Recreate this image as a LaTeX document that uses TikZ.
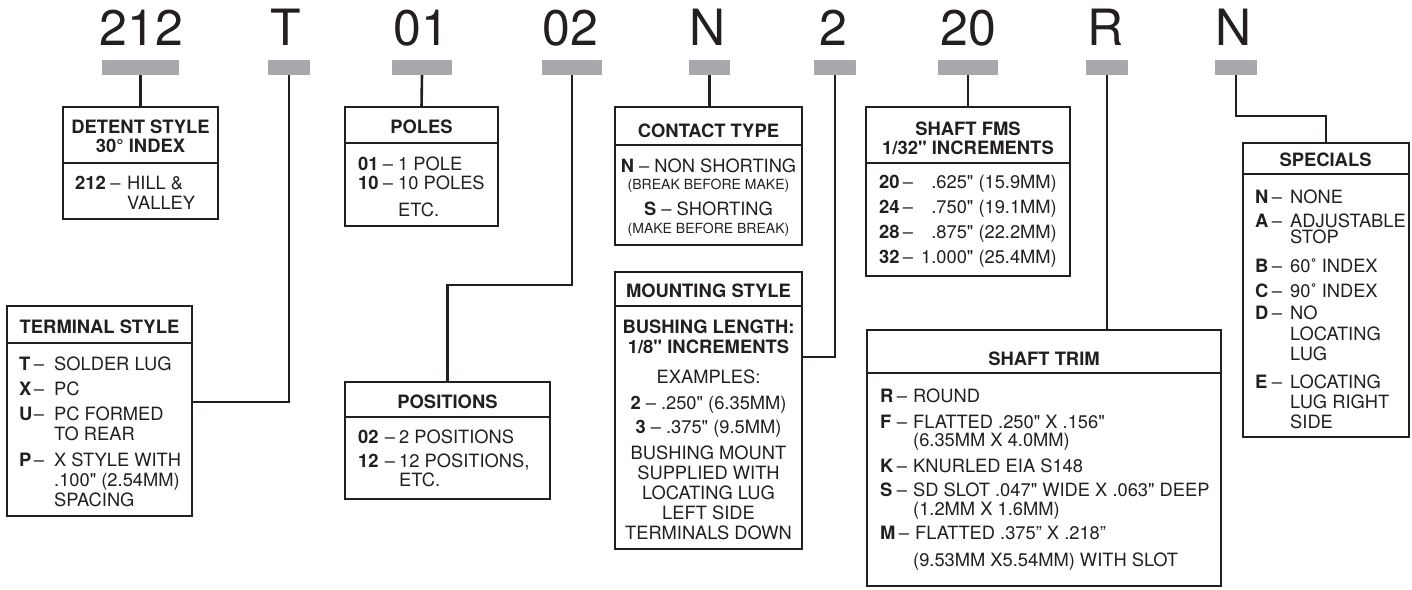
\documentclass[tikz,border=0pt]{standalone}
\usepackage{fontspec}
\setmainfont{TeX Gyre Heros}[Ligatures=TeXOff]
\definecolor{ink}{HTML}{231F20}
\definecolor{barg}{HTML}{A7A9AC}
\newcommand\bodyr{\fontsize{18.3}{20}\selectfont}
\newcommand\bodyb{\fontsize{18.4}{20}\selectfont\bfseries}
\newcommand\smallr{\fontsize{14}{16}\selectfont}
\newcommand\bigcode{\fontsize{50}{50}\selectfont}
\tikzset{
  box/.style={draw=ink, line width=2.6pt, inner sep=0pt, outer sep=0pt},
  bar/.style={fill=barg, inner sep=0pt, outer sep=0pt},
  conn/.style={draw=ink, line width=2.6pt},
  sepl/.style={draw=ink, line width=2.6pt},
  big/.style={font=\bigcode, text=ink, inner sep=0pt, anchor=base},
  hd/.style={font=\bodyb, text=ink, inner sep=0pt, anchor=base},
  lab/.style={font=\bodyb, text=ink, inner sep=0pt, anchor=base west},
  dsh/.style={font=\bodyr, text=ink, inner sep=0pt, anchor=base},
  tx/.style={font=\bodyr, text=ink, inner sep=0pt, anchor=base west},
  rtx/.style={font=\bodyr, text=ink, inner sep=0pt, anchor=base east},
  ctx/.style={font=\bodyr, text=ink, inner sep=0pt, anchor=base},
  smalltx/.style={font=\smallr, text=ink, inner sep=0pt, anchor=base},
}
% name, baseline, x label, x dash centre, x text, label, text
\newcommand\ent[7]{%
  \node[lab] (#1) at (#3,#2) {#6};
  \node[dsh] (#1d) at (#4,#2) {\textendash};
  \node[tx] (#1t) at (#5,#2) {#7};}
% name, x1, y1, x2, y2
\newcommand\pbox[5]{\node[box, anchor=north west, minimum width={#4-#2}, minimum height={#5-#3}] (#1) at (#2,#3) {};}
\newcommand\pbar[5]{\node[bar, anchor=north west, minimum width={#4-#2}, minimum height={#5-#3}] (#1) at (#2,#3) {};}
\newcommand\psep[2]{\draw[sepl] (#1.west |- 0,#2) -- (#1.east |- 0,#2);}
\begin{document}
\begin{tikzpicture}[x=1pt,y=-1pt]
\useasboundingbox (0,0) rectangle (1412,589);
% code letters
\node[big] (l1) at (141.5,45.5) {212};
\node[big] (l2) at (285.5,45.5) {T};
\node[big] (l3) at (421.5,45.5) {01};
\node[big] (l4) at (570.5,45.5) {02};
\node[big] (l5) at (708,45.5) {N};
\node[big] (l6) at (833.5,45.5) {2};
\node[big] (l7) at (968,45.5) {20};
\node[big] (l8) at (1106,45.5) {R};
\node[big] (l9) at (1233.5,45.5) {N};
% bars
\pbar{b1}{102}{60}{179}{75}
\pbar{b2}{268}{60}{310}{75}
\pbar{b3}{392}{60}{452}{75}
\pbar{b4}{542}{60}{602}{75}
\pbar{b5}{689}{60}{730}{75}
\pbar{b6}{814}{60}{856}{75}
\pbar{b7}{938}{60}{998}{75}
\pbar{b8}{1086}{60}{1128}{75}
\pbar{b9}{1215}{60}{1257}{75}
% boxes
\pbox{detent}{63}{107}{218}{219}   \psep{detent}{163}
\pbox{poles}{345}{107}{498}{226}   \psep{poles}{143}
\pbox{contact}{615}{107}{802}{245} \psep{contact}{145}
\pbox{mount}{615}{272}{802}{549}   \psep{mount}{306}
\pbox{fms}{866}{107}{1070}{276}    \psep{fms}{163}
\pbox{trim}{867}{330}{1221}{586}   \psep{trim}{373}
\pbox{spec}{1243}{143}{1409}{437}  \psep{spec}{174}
\pbox{term}{7}{306}{192}{516}      \psep{term}{343}
\pbox{pos}{345}{382}{550}{499}     \psep{pos}{417}
% connectors
\draw[conn] (b1.south) -- (detent.north);
\draw[conn] (b2.south) |- (term.east |- 0,402);
\draw[conn] (b3.south) -- (poles.north);
\draw[conn] (b4.south) -- (b4.south |- 0,285) -| (pos.north);
\draw[conn] (b5.south) -- (b5.south |- contact.north);
\draw[conn] (b6.south) |- (mount.east |- 0,357);
\draw[conn] (b7.south) -- (fms.north);
\draw[conn] (b8.south) -- (b8.south |- trim.north);
\draw[conn] (b9.south) -- (b9.south |- 0,116) -| (spec.north);
% detent
\node[hd] (dh1) at (140.5,133.5) {DETENT STYLE};
\node[hd] (dh2) at (140.5,152) {30° INDEX};
\ent{d1}{189}{75}{115.5}{127}{212}{HILL \&}
\node[tx] (d1b) at (127,209) {VALLEY};
% poles
\node[hd] (ph) at (421.5,133) {POLES};
\ent{p1}{170}{358}{388}{398}{01}{1 POLE}
\ent{p2}{189}{358}{388}{398}{10}{10 POLES}
\node[tx] (p3) at (398,216) {ETC.};
% contact
\node[hd] (ch) at (708.5,137) {CONTACT TYPE};
\node[ctx] (c1) at (708.5,172) {\textbf{N} \textendash{} NON SHORTING};
\node[smalltx] (c2) at (708.5,189) {(BREAK BEFORE MAKE)};
\node[ctx] (c3) at (708.5,215) {\textbf{S} \textendash{} SHORTING};
\node[smalltx] (c4) at (708.5,233) {(MAKE BEFORE BREAK)};
% mounting
\node[hd] (mh) at (708.5,297) {MOUNTING STYLE};
\node[hd] (m1) at (708.5,333) {BUSHING LENGTH:};
\node[hd] (m2) at (708.5,353) {1/8" INCREMENTS};
\node[ctx] (m3) at (708.5,383) {EXAMPLES:};
\node[ctx] (m4) at (708.5,409) {\textbf{2} \textendash{} .250" (6.35MM)};
\node[ctx] (m5) at (708.5,433) {\textbf{3} \textendash{} .375" (9.5MM)};
\node[ctx] (m6) at (708.5,459) {BUSHING MOUNT};
\node[ctx] (m7) at (708.5,479) {SUPPLIED WITH};
\node[ctx] (m8) at (708.5,499) {LOCATING LUG};
\node[ctx] (m9) at (708.5,519) {LEFT SIDE};
\node[ctx] (m10) at (708.5,539) {TERMINALS DOWN};
% shaft fms
\node[hd] (fh1) at (968,135) {SHAFT FMS};
\node[hd] (fh2) at (968,154) {1/32" INCREMENTS};
\node[lab] (f1) at (879,188) {20}; \node[dsh] (f1d) at (908,188) {\textendash}; \node[rtx] (f1t) at (1057,188) {.625" (15.9MM)};
\node[lab] (f2) at (879,213) {24}; \node[dsh] (f2d) at (908,213) {\textendash}; \node[rtx] (f2t) at (1057,213) {.750" (19.1MM)};
\node[lab] (f3) at (879,238) {28}; \node[dsh] (f3d) at (908,238) {\textendash}; \node[rtx] (f3t) at (1057,238) {.875" (22.2MM)};
\node[lab] (f4) at (879,263) {32}; \node[dsh] (f4d) at (908,263) {\textendash}; \node[rtx] (f4t) at (1057,263) {1.000" (25.4MM)};
% shaft trim
\node[hd] (th) at (1044,365) {SHAFT TRIM};
\ent{t1}{402}{880}{902}{913}{R}{ROUND}
\ent{t2}{428}{880}{902}{913}{F}{FLATTED .250" X .156"}
\node[tx] (t2b) at (913,446) {(6.35MM X 4.0MM)};
\ent{t3}{472}{880}{902}{913}{K}{KNURLED EIA S148}
\ent{t4}{496}{880}{902}{913}{S}{SD SLOT .047" WIDE X .063" DEEP}
\node[tx] (t4b) at (913,515) {(1.2MM X 1.6MM)};
\ent{t5}{539}{880}{904}{915}{M}{FLATTED .375” X .218”}
\node[tx] (t5b) at (913,566) {(9.53MM X5.54MM) WITH SLOT};
% specials
\node[hd] (sh) at (1325.5,166) {SPECIALS};
\ent{s1}{203}{1255}{1277}{1290}{N}{NONE}
\ent{s2}{227}{1255}{1277}{1290}{A}{ADJUSTABLE}
\node[tx] (s2b) at (1290,243) {STOP};
\ent{s3}{272}{1255}{1277}{1290}{B}{60˚ INDEX}
\ent{s4}{297}{1255}{1277}{1290}{C}{90˚ INDEX}
\ent{s5}{319}{1255}{1277}{1290}{D}{NO}
\node[tx] (s5b) at (1290,340) {LOCATING};
\node[tx] (s5c) at (1290,360) {LUG};
\ent{s6}{388}{1255}{1277}{1290}{E}{LOCATING}
\node[tx] (s6b) at (1290,408) {LUG RIGHT};
\node[tx] (s6c) at (1290,428) {SIDE};
% terminal style
\node[hd] (trh) at (99.5,333) {TERMINAL STYLE};
\ent{r1}{370}{19}{39}{54}{T}{SOLDER LUG}
\ent{r2}{395}{19}{39}{54}{X}{PC}
\ent{r3}{420}{19}{39}{54}{U}{PC FORMED}
\node[tx] (r3b) at (54,440) {TO REAR};
\ent{r4}{466}{19}{39}{54}{P}{X STYLE WITH}
\node[tx] (r4b) at (54,486) {.100" (2.54MM)};
\node[tx] (r4c) at (54,506) {SPACING};
% positions
\node[hd] (poh) at (447.5,408) {POSITIONS};
\ent{q1}{443}{358}{390}{399}{02}{2 POSITIONS}
\ent{q2}{467}{358}{390}{399}{12}{12 POSITIONS,}
\node[tx] (q3) at (399,486) {ETC.};
\end{tikzpicture}
\end{document}
